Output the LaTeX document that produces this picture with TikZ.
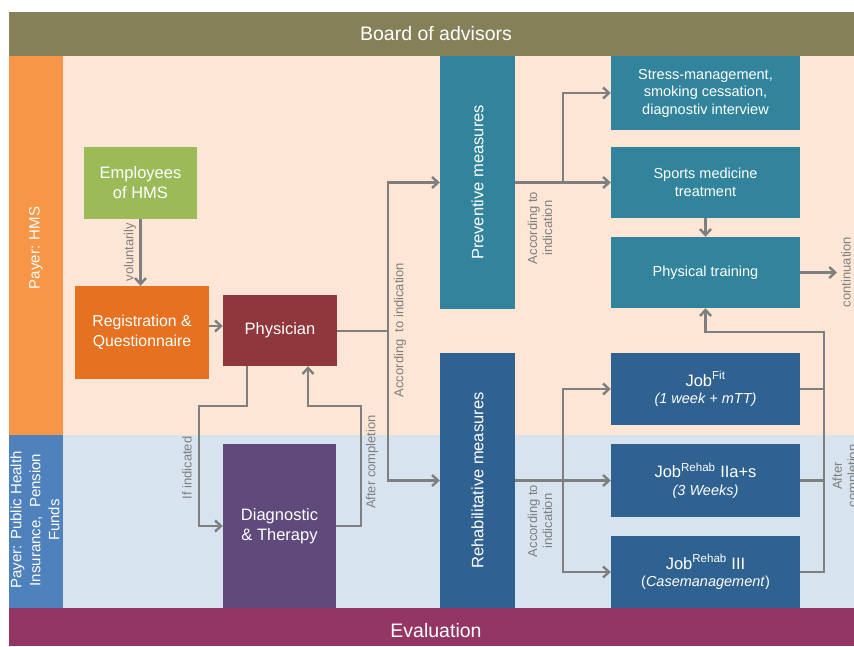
\documentclass[tikz,border=0pt]{standalone}
\usepackage{fontspec}
\setmainfont{Liberation Sans}
\usetikzlibrary{arrows.meta}
\definecolor{boardc}{RGB}{134,128,89}
\definecolor{peach}{RGB}{253,230,213}
\definecolor{lblue}{RGB}{215,227,239}
\definecolor{orcol}{RGB}{247,150,70}
\definecolor{blcol}{RGB}{79,129,189}
\definecolor{evalc}{RGB}{148,54,100}
\definecolor{greenc}{RGB}{155,187,89}
\definecolor{regc}{RGB}{230,113,32}
\definecolor{physc}{RGB}{143,55,58}
\definecolor{diagc}{RGB}{96,74,123}
\definecolor{tealc}{RGB}{49,132,155}
\definecolor{dbluec}{RGB}{47,97,145}
\definecolor{linec}{RGB}{127,127,127}
\begin{document}
\begin{tikzpicture}[x=1pt,y=-1pt,
  box/.style={inner sep=0pt, text=white, align=center, anchor=center},
  big/.style={font=\fontsize{16.5}{20}\selectfont},
  mid/.style={font=\fontsize{14.5}{17.5}\selectfont},
  conn/.style={draw=linec, line width=2.4pt, -{Straight Barb[length=6pt,width=11pt]}},
  plain/.style={draw=linec, line width=2.4pt},
  lbl/.style={rotate=90, text=linec, align=center, inner sep=0pt, font=\fontsize{13}{15}\selectfont},
  band/.style={inner sep=0pt, text=white, font=\fontsize{19.5}{23}\selectfont}]
\clip (0,0) rectangle (854,646);
\fill[white] (0,0) rectangle (854,646);
% backgrounds
\fill[peach] (9,56) rectangle (854,435);
\fill[lblue] (9,435) rectangle (854,608);
\fill[orcol] (9,56) rectangle (63,435);
\fill[blcol] (9,435) rectangle (63,608);
\fill[boardc] (9,12) rectangle (854,56);
\fill[evalc] (9,608) rectangle (854,646);
\node[band] (board) at (436,34) {Board of advisors};
\node[band] (evalt) at (436,631) {Evaluation};
\node[box, rotate=90, font=\fontsize{15}{19}\selectfont] (payhms) at (36,248) {Payer: HMS};
\node[box, rotate=90, font=\fontsize{15}{19}\selectfont] (payphi) at (35,520) {Payer: Public Health\\Insurance,\ \ Pension\\Funds};
% nodes
\node[box, big, fill=greenc, minimum width=113pt, minimum height=72pt] (emp) at (140.5,183) {Employees\\of HMS};
\node[box, font=\fontsize{15.8}{19.5}\selectfont, fill=regc, minimum width=134pt, minimum height=93pt] (reg) at (142,332.5) {Registration \&\\Questionnaire};
\node[box, big, fill=physc, minimum width=114pt, minimum height=71pt] (phys) at (280,330.5) {Physician};
\node[box, big, fill=diagc, minimum width=113pt, minimum height=164pt] (diag) at (279.5,526) {Diagnostic\\\& Therapy};
\node[box, big, fill=tealc, minimum width=75pt, minimum height=253pt] (prev) at (477.5,182.5) {};
\node[box, big, rotate=90] (prevt) at (prev.center) {Preventive measures};
\node[box, big, fill=dbluec, minimum width=75pt, minimum height=255pt] (rehab) at (477.5,480.5) {};
\node[box, big, rotate=90] (rehabt) at (rehab.center) {Rehabilitative measures};
\node[box, mid, fill=tealc, minimum width=189pt, minimum height=74pt] (stress) at (705.5,93) {Stress-management,\\smoking cessation,\\diagnostiv interview};
\node[box, mid, fill=tealc, minimum width=189pt, minimum height=71pt] (sports) at (705.5,182.5) {Sports medicine\\treatment};
\node[box, mid, fill=tealc, minimum width=189pt, minimum height=71pt] (train) at (705.5,272.5) {Physical training};
\node[box, mid, fill=dbluec, minimum width=189pt, minimum height=72pt] (jobfit) at (705.5,389) {{\fontsize{16.5}{20}\selectfont Job\textsuperscript{Fit}}\\\textit{(1 week + mTT)}};
\node[box, mid, fill=dbluec, minimum width=189pt, minimum height=73pt] (jobiia) at (705.5,480.5) {{\fontsize{16.5}{20}\selectfont Job\textsuperscript{Rehab} IIa+s}\\\textit{(3 Weeks)}};
\node[box, mid, fill=dbluec, minimum width=189pt, minimum height=72pt] (jobiii) at (705.5,572) {{\fontsize{16.5}{20}\selectfont Job\textsuperscript{Rehab} III}\\(\textit{Casemanagement})};
% coordinates
\coordinate (j1) at (388,331);
\coordinate (d1) at (199,406);
\coordinate (d2) at (361,406);
\coordinate (p1) at (563,182.5);
\coordinate (r1) at (563,480.5);
\coordinate (c1) at (824,332);
\coordinate (cont) at (837,272.5);
% connectors
\draw[conn] (emp.south) -- (reg.north -| emp.south);
\draw[conn] (reg.east |- 0,326) -- (phys.west |- 0,326);
\draw[plain] (phys.east |- j1) -- (j1);
\draw[conn] (j1) |- (prev.west);
\draw[conn] (j1) |- (rehab.west);
\draw[conn] ([xshift=-33pt]phys.south) |- (d1) |- (diag.west);
\draw[conn] (diag.east) -| (d2) -| ([xshift=28pt]phys.south);
\draw[conn] (prev.east) -- (sports.west);
\draw[conn] (p1) |- (stress.west);
\draw[conn] (sports.south) -- (train.north);
\draw[conn] (train.east) -- (cont);
\draw[conn] (rehab.east) -- (jobiia.west);
\draw[conn] (r1) |- (jobfit.west);
\draw[conn] (r1) |- (jobiii.west);
\draw[plain] (jobfit.east) -- (jobfit.east -| c1);
\draw[plain] (jobiia.east) -- (jobiia.east -| c1);
\draw[conn] (jobiii.east) -| (c1) -| (train.south);
% labels
\node[lbl] (lvol) at (130,252) {voluntarily};
\node[lbl] (lacc) at (400,330) {According\ \ to indication};
\node[lbl] (lif) at (187,468) {If indicated};
\node[lbl] (laft) at (372,462) {After completion};
\node[lbl] (lacc2) at (540,228) {According to\\indication};
\node[lbl] (lacc3) at (540,521) {According to\\indication};
\node[lbl] (lcont) at (846,272) {continuation};
\node[lbl] (laft2) at (846,476) {After\\completion};
\end{tikzpicture}
\end{document}
